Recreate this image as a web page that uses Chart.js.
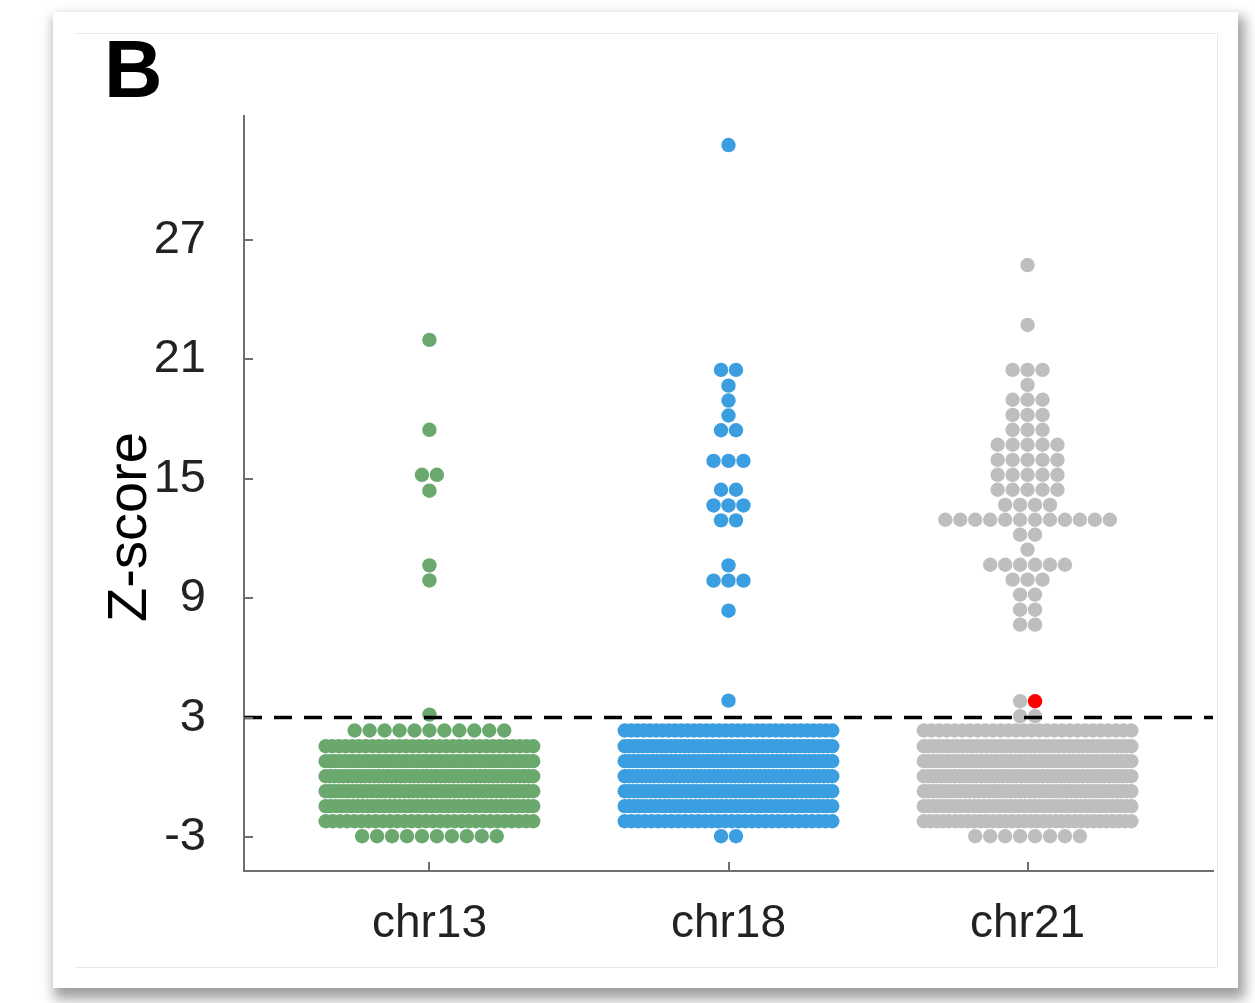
<!DOCTYPE html>
<html>
<head>
<meta charset="utf-8">
<script src="https://cdn.jsdelivr.net/npm/chart.js@4.4.0/dist/chart.umd.min.js"></script>
<style>
  html, body { margin: 0; padding: 0; background: #fff; width: 1255px; height: 1003px; overflow: hidden; }
  .card { position: absolute; left: 53px; top: 12px; width: 1185px; height: 976px; background: #fff;
          box-shadow: 4px 8px 12px 3px rgba(0,0,0,0.38); }
  .frame { position: absolute; left: 75px; top: 33px; width: 1142px; height: 933px;
           border-top: 1px solid #e9e9e9; border-right: 1px solid #e9e9e9; border-bottom: 1px solid #e9e9e9; }
  #chart { position: absolute; left: 0; top: 0; }
</style>
</head>
<body>
<div class="card"></div>
<div class="frame"></div>
<canvas id="chart" width="1255" height="1003"></canvas>
<script>
// Chromosome groups on the x axis
const categories = ['chr13', 'chr18', 'chr21'];
const yTickValues = [-3, 3, 9, 15, 21, 27];
const threshold = 3;

// Z-score levels (binned) and number of samples at each level
const chr13Levels = [21.98, 17.46, 15.20, 14.40, 10.65, 9.89, 3.15, 2.35, 1.56, 0.81, 0.05, -0.70, -1.45, -2.21, -2.96];
const chr13Counts = [1, 1, 2, 1, 1, 1, 1, 11, 32, 44, 48, 46, 40, 30, 10];

const chr18Levels = [31.77, 20.47, 19.68, 18.93, 18.18, 17.44, 15.90, 14.45, 13.66, 12.91, 10.65, 9.88, 8.37, 3.85,
                     2.35, 1.56, 0.81, 0.05, -0.70, -1.45, -2.21, -2.96];
const chr18Counts = [1, 2, 1, 1, 1, 2, 3, 2, 3, 2, 1, 3, 1, 1,
                     34, 46, 50, 50, 48, 42, 32, 2];

const chr21Levels = [25.74, 22.73, 20.47, 19.72, 18.97, 18.21, 17.46, 16.71, 15.95, 15.20, 14.45, 13.69, 12.94, 12.19,
                     11.44, 10.68, 9.93, 9.18, 8.42, 7.67, 3.82, 3.07,
                     2.35, 1.56, 0.81, 0.05, -0.70, -1.45, -2.21, -2.96];
const chr21Counts = [1, 1, 3, 1, 3, 3, 3, 5, 5, 5, 5, 4, 12, 2,
                     1, 6, 3, 2, 2, 2, 2, 2,
                     28, 44, 48, 48, 46, 42, 34, 8];
// Flagged chr21 sample (drawn in red)
const chr21Flagged = [3.82];

const colors = { chr13: '#6aa86e', chr18: '#3a9ee0', chr21: '#bebebe', flagged: '#ff0000' };
const FONT = '"Liberation Sans", Arial, Helvetica, sans-serif';
const DOT_STEP = 0.05;   // horizontal spacing between neighbouring dots
const MAX_HALF = 0.347;  // widest half-spread of a row

// Spread points of equal level symmetrically around the group centre
function swarm(levels, counts, center, flagged) {
  const pts = [];
  levels.forEach((z, i) => {
    const n = counts[i];
    const step = n > 1 ? Math.min(DOT_STEP, 2 * MAX_HALF / (n - 1)) : 0;
    const nFlag = (flagged || []).filter(f => f === z).length;
    for (let k = 0; k < n; k++) {
      pts.push({ x: center + (k - (n - 1) / 2) * step, y: z, flag: k >= n - nFlag });
    }
  });
  return pts;
}

const X_MIN = 0.38, X_MAX = 3.62;
const Y_MIN = -4.71, Y_MAX = 33.23;

const pointStyle = { pointRadius: 7.2, pointBorderWidth: 0, pointHoverRadius: 7.2, pointHitRadius: 0, order: 1 };

const axisDecor = {
  id: 'axisDecor',
  afterDraw(chart) {
    const { ctx, chartArea, scales: { x, y } } = chart;
    ctx.save();
    // inward tick marks
    ctx.strokeStyle = '#6f6f6f';
    ctx.lineWidth = 2;
    ctx.beginPath();
    yTickValues.forEach(v => {
      const py = Math.round(y.getPixelForValue(v));
      ctx.moveTo(chartArea.left, py);
      ctx.lineTo(chartArea.left + 9, py);
    });
    categories.forEach((c, i) => {
      const px = Math.round(x.getPixelForValue(i + 1));
      ctx.moveTo(px, chartArea.bottom);
      ctx.lineTo(px, chartArea.bottom - 9);
    });
    ctx.stroke();
    // axis title
    ctx.fillStyle = '#000';
    ctx.font = '56px ' + FONT;
    ctx.textAlign = 'center';
    ctx.textBaseline = 'alphabetic';
    ctx.translate(146, 527);
    ctx.rotate(-Math.PI / 2);
    ctx.fillText('Z-score', 0, 0);
    ctx.restore();
    // panel letter
    ctx.save();
    ctx.fillStyle = '#000';
    ctx.font = 'bold 81px ' + FONT;
    ctx.textAlign = 'left';
    ctx.textBaseline = 'alphabetic';
    ctx.fillText('B', 104, 97);
    ctx.restore();
  }
};

new Chart(document.getElementById('chart'), {
  type: 'scatter',
  data: {
    datasets: [
      { label: 'threshold', type: 'line', data: [{ x: X_MIN, y: threshold }, { x: X_MAX, y: threshold }],
        borderColor: '#000', borderWidth: 3.6, borderDash: [18, 12], pointRadius: 0, fill: false, order: 0 },
      { label: categories[0], data: swarm(chr13Levels, chr13Counts, 1), backgroundColor: colors.chr13, ...pointStyle },
      { label: categories[1], data: swarm(chr18Levels, chr18Counts, 2), backgroundColor: colors.chr18, ...pointStyle },
      { label: categories[2], data: swarm(chr21Levels, chr21Counts, 3, chr21Flagged),
        backgroundColor: ctx => (ctx.raw && ctx.raw.flag ? colors.flagged : colors.chr21), ...pointStyle }
    ]
  },
  options: {
    responsive: false,
    animation: false,
    events: [],
    layout: { padding: { top: 116, right: 42, bottom: 0, left: 0 } },
    plugins: { legend: { display: false }, tooltip: { enabled: false } },
    scales: {
      x: {
        type: 'linear', min: X_MIN, max: X_MAX,
        afterBuildTicks: s => { s.ticks = categories.map((c, i) => ({ value: i + 1 })); },
        afterFit: s => { s.height = 132; },
        ticks: { callback: (v, i) => categories[i], font: { family: FONT, size: 46, lineHeight: 1 },
                 color: '#222', padding: 30, maxRotation: 0, autoSkip: false },
        grid: { display: false, drawTicks: false },
        border: { display: true, color: '#6f6f6f', width: 2 }
      },
      y: {
        type: 'linear', min: Y_MIN, max: Y_MAX,
        afterBuildTicks: s => { s.ticks = yTickValues.map(v => ({ value: v })); },
        afterFit: s => { s.width = 244; },
        ticks: { callback: v => String(v), font: { family: FONT, size: 47 }, color: '#222', padding: 38, autoSkip: false },
        grid: { display: false, drawTicks: false },
        border: { display: true, color: '#6f6f6f', width: 2 }
      }
    }
  },
  plugins: [axisDecor]
});
</script>
</body>
</html>
